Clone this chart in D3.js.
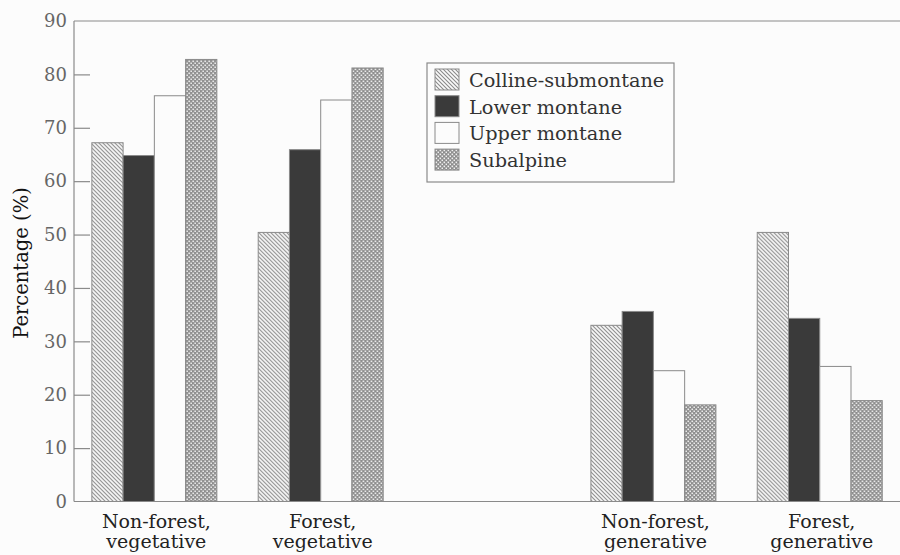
<!DOCTYPE html>
<html>
<head>
<meta charset="utf-8">
<script src="https://cdn.jsdelivr.net/npm/d3@7"></script>
<style>
  html, body { margin: 0; padding: 0; background: #fcfcfc; }
  svg { display: block; }
</style>
</head>
<body>
<svg id="chart" width="900" height="555"></svg>
<script>
// ---- data ----
const categories = ["Non-forest,\nvegetative", "Forest,\nvegetative", "Non-forest,\ngenerative", "Forest,\ngenerative"];
const slots = ["s0", "s1", "gap", "s3", "s4"];           // empty slot between the two pairs
const categorySlots = ["s0", "s1", "s3", "s4"];
const series = ["Colline-submontane", "Lower montane", "Upper montane", "Subalpine"];
const collineValues = [67.2, 50.4, 33.0, 50.4];
const lowerMontaneValues = [64.8, 65.9, 35.6, 34.3];
const upperMontaneValues = [76.0, 75.2, 24.5, 25.3];
const subalpineValues = [82.8, 81.2, 18.1, 18.9];
const yTicks = [0, 10, 20, 30, 40, 50, 60, 70, 80, 90];
const yLabel = "Percentage (%)";

const seriesValues = [collineValues, lowerMontaneValues, upperMontaneValues, subalpineValues];

// ---- layout ----
const svg = d3.select("#chart");
const mLeft = 74, mTop = 21, mBottom = 501.5, mRight = 900;
const fontFamily = "'DejaVu Serif', 'Liberation Serif', serif";

const y = d3.scaleLinear().domain([0, 90]).range([mBottom, mTop]);
const x0 = d3.scaleBand().domain(slots).range([50.5, 923.6]).paddingInner(0.2486).paddingOuter(0.2486);
const x1 = d3.scaleBand().domain(series).range([0, x0.bandwidth()]);

// ---- patterns ----
const defs = svg.append("defs");
const hatch = defs.append("pattern").attr("id", "hatch").attr("patternUnits", "userSpaceOnUse")
  .attr("width", 4).attr("height", 4);
hatch.append("rect").attr("width", 4).attr("height", 4).attr("fill", "#fafafa");
hatch.append("path").attr("d", "M0,0L4,4M-1,3L1,5M3,-1L5,1")
  .attr("stroke", "#8a8a8a").attr("stroke-width", 1.1);

const cross = defs.append("pattern").attr("id", "cross").attr("patternUnits", "userSpaceOnUse")
  .attr("width", 4).attr("height", 4);
cross.append("rect").attr("width", 4).attr("height", 4).attr("fill", "#8c8c8c");
cross.append("rect").attr("x", 0.5).attr("y", 0.5).attr("width", 1.6).attr("height", 1.6).attr("fill", "#f4f4f4");
cross.append("rect").attr("x", 2.5).attr("y", 2.5).attr("width", 1.6).attr("height", 1.6).attr("fill", "#f4f4f4");

const fills = ["url(#hatch)", "#3a3a3a", "#fcfcfc", "url(#cross)"];
const color = d3.scaleOrdinal().domain(series).range(fills);

// ---- frame lines ----
svg.append("line").attr("x1", mLeft).attr("x2", mRight).attr("y1", mTop).attr("y2", mTop)
  .attr("stroke", "#8a8a8a").attr("stroke-width", 1.2);

// ---- bars ----
const groups = svg.append("g").selectAll("g").data(categories).join("g")
  .attr("transform", (d, i) => `translate(${x0(categorySlots[i])},0)`);

groups.selectAll("rect").data((d, i) => series.map((s, k) => ({ s, v: seriesValues[k][i] })))
  .join("rect")
  .attr("x", d => x1(d.s))
  .attr("width", x1.bandwidth())
  .attr("y", d => y(d.v))
  .attr("height", d => y(0) - y(d.v))
  .attr("fill", d => color(d.s))
  .attr("stroke", "#8a8a8a")
  .attr("stroke-width", 1);

// ---- y axis ----
const yAxis = d3.axisRight(y).tickValues(yTicks).tickSize(16).tickFormat(d3.format("d"));
const yg = svg.append("g").attr("transform", `translate(${mLeft},0)`).call(yAxis);
yg.select(".domain").remove();
yg.selectAll(".tick line").attr("stroke", "#8a8a8a").attr("stroke-width", 1.2);
yg.selectAll(".tick text").attr("x", -7).attr("text-anchor", "end")
  .attr("font-family", fontFamily).attr("font-size", 18).attr("fill", "#666");
yg.selectAll(".tick").filter(d => d === 0 || d === 90).select("line").remove();
svg.append("line").attr("x1", mLeft).attr("x2", mLeft).attr("y1", mTop).attr("y2", mBottom)
  .attr("stroke", "#8a8a8a").attr("stroke-width", 1.2);

// ---- x axis ----
const xAxis = d3.axisBottom(x0).tickSize(0).tickFormat(() => "");
const xg = svg.append("g").attr("transform", `translate(0,${mBottom})`).call(xAxis);
xg.select(".domain").attr("d", `M${mLeft},0H${mRight}`).attr("stroke", "#8a8a8a").attr("stroke-width", 1.2);

const xl = svg.append("g").selectAll("text").data(categories).join("text")
  .attr("x", (d, i) => x0(categorySlots[i]) + x0.bandwidth() / 2 + 2)
  .attr("y", 528)
  .attr("text-anchor", "middle")
  .attr("font-family", fontFamily).attr("font-size", 19).attr("fill", "#222");
xl.selectAll("tspan").data(d => d.split("\n")).join("tspan")
  .attr("x", function () { return d3.select(this.parentNode).attr("x"); })
  .attr("dy", (d, i) => i === 0 ? 0 : 20)
  .text(d => d);

// ---- y label ----
svg.append("text")
  .attr("transform", `translate(28,263) rotate(-90)`)
  .attr("text-anchor", "middle")
  .attr("font-family", fontFamily).attr("font-size", 19.5).attr("fill", "#111")
  .text(yLabel);

// ---- legend ----
const lg = svg.append("g").attr("transform", "translate(427,63)");
lg.append("rect").attr("width", 247).attr("height", 119)
  .attr("fill", "#fcfcfc").attr("stroke", "#8a8a8a").attr("stroke-width", 1.2);
const items = lg.selectAll("g").data(series).join("g")
  .attr("transform", (d, i) => `translate(8,${6 + i * 26.7})`);
items.append("rect").attr("width", 24).attr("height", 21)
  .attr("fill", d => color(d)).attr("stroke", "#8a8a8a").attr("stroke-width", 1);
items.append("text").attr("x", 34).attr("y", 18)
  .attr("font-family", fontFamily).attr("font-size", 19.3).attr("fill", "#333")
  .text(d => d);
</script>
</body>
</html>
